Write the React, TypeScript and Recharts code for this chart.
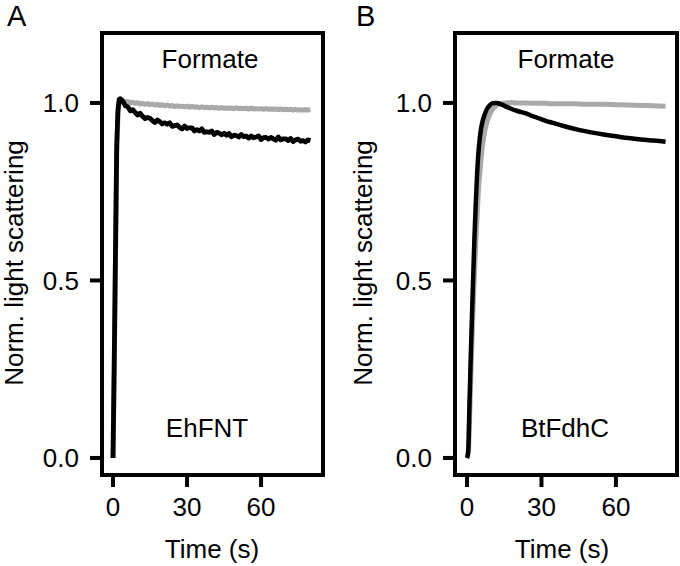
import React from "react";
import { LineChart, Line, XAxis, YAxis, ReferenceArea } from "recharts";

const FONT = "'Liberation Sans', Arial, Helvetica, sans-serif";

// panel A (EhFNT)
const timeA = [
  0, 0.5, 1, 1.5, 2, 2.5, 3, 4, 5, 6, 7, 8, 9, 10, 11, 12, 13, 14, 15, 16, 17, 18, 19, 20,
  21, 22, 23, 24, 25, 26, 27, 28, 29, 30, 31, 32, 33, 34, 35, 36, 37, 38, 39, 40, 41, 42,
  43, 44, 45, 46, 47, 48, 49, 50, 51, 52, 53, 54, 55, 56, 57, 58, 59, 60, 61, 62, 63, 64,
  65, 66, 67, 68, 69, 70, 71, 72, 73, 74, 75, 76, 77, 78, 79, 80,
];
const grayA = [
  0, 0.25, 0.55, 0.85, 0.97, 0.998, 1.003, 1.005, 1.002, 1.004, 1.0, 1.002, 0.999, 1.001,
  0.997, 0.999, 0.996, 0.998, 0.995, 0.997, 0.994, 0.996, 0.993, 0.995, 0.992, 0.994, 0.991,
  0.993, 0.99, 0.992, 0.99, 0.991, 0.989, 0.991, 0.988, 0.99, 0.988, 0.989, 0.987, 0.989,
  0.987, 0.988, 0.986, 0.988, 0.986, 0.987, 0.985, 0.987, 0.985, 0.986, 0.985, 0.986, 0.984,
  0.986, 0.984, 0.985, 0.984, 0.985, 0.983, 0.985, 0.983, 0.984, 0.983, 0.984, 0.982, 0.984,
  0.982, 0.983, 0.982, 0.983, 0.981, 0.983, 0.981, 0.982, 0.981, 0.982, 0.98, 0.982, 0.98,
  0.981, 0.98, 0.981, 0.98, 0.981,
];
const blackA = [
  0, 0.27, 0.58, 0.88, 0.98, 1.01, 1.012, 1.005, 0.992, 0.989, 0.978, 0.981, 0.973, 0.966,
  0.971, 0.962, 0.956, 0.959, 0.957, 0.95, 0.945, 0.952, 0.947, 0.941, 0.944, 0.94, 0.944,
  0.934, 0.936, 0.938, 0.931, 0.927, 0.935, 0.928, 0.93, 0.93, 0.921, 0.925, 0.921, 0.927,
  0.917, 0.919, 0.917, 0.921, 0.911, 0.917, 0.915, 0.91, 0.915, 0.909, 0.914, 0.905, 0.909,
  0.908, 0.904, 0.911, 0.905, 0.907, 0.901, 0.907, 0.902, 0.904, 0.907, 0.897, 0.902, 0.903,
  0.898, 0.903, 0.899, 0.895, 0.904, 0.896, 0.899, 0.899, 0.894, 0.9, 0.891, 0.896, 0.898,
  0.892, 0.894, 0.89, 0.896, 0.894,
];

// panel B (BtFdhC)
const timeB = [
  0, 0.5, 1, 1.5, 2, 2.5, 3, 3.5, 4, 4.5, 5, 5.5, 6, 7, 8, 9, 10, 11, 12, 14, 16, 18, 20,
  22, 24, 26, 28, 30, 32, 34, 36, 38, 40, 45, 50, 55, 60, 65, 70, 75, 80,
];
const grayB = [
  0, 0.01, 0.1, 0.22, 0.33, 0.43, 0.52, 0.6, 0.67, 0.74, 0.79, 0.83, 0.865, 0.915, 0.945,
  0.966, 0.979, 0.988, 0.994, 0.999, 1.0, 1.001, 1.0, 1.0, 1.0, 0.999, 0.999, 0.999, 0.999,
  0.998, 0.998, 0.998, 0.998, 0.997, 0.996, 0.996, 0.995, 0.994, 0.993, 0.992, 0.991,
];
const blackB = [
  0, 0.02, 0.15, 0.28, 0.4, 0.51, 0.62, 0.71, 0.79, 0.85, 0.89, 0.92, 0.94, 0.965, 0.982,
  0.992, 0.998, 1.0, 1.0, 0.995, 0.989, 0.983, 0.978, 0.974, 0.97, 0.964, 0.959, 0.954,
  0.949, 0.945, 0.941, 0.937, 0.933, 0.924, 0.917, 0.911, 0.906, 0.901, 0.897, 0.894, 0.891,
];

const xTicks = [0, 30, 60];
const yTicks = [0, 0.5, 1];

const yDomain: [number, number] = [-0.048, 1.197];

function rows(t: number[], gray: number[], black: number[]) {
  return t.map((v, i) => ({ t: v, gray: gray[i], black: black[i] }));
}

function Panel({
  data,
  left,
  yAxisWidth,
  rightMargin,
  xDomain,
  curve,
  blackWidth,
}: {
  data: { t: number; gray: number; black: number }[];
  left: number;
  yAxisWidth: number;
  rightMargin: number;
  xDomain: [number, number];
  curve: "linear" | "monotone";
  blackWidth: number;
}) {
  const tick = { fill: "#000", fontSize: 26, fontFamily: FONT };
  const tickLine = { stroke: "#000", strokeWidth: 4 };
  return (
    <div style={{ position: "absolute", left, top: 0 }}>
      <LineChart
        width={340}
        height={566}
        data={data}
        margin={{ top: 33, right: rightMargin, left: 0, bottom: 61 }}
      >
        <XAxis
          type="number"
          dataKey="t"
          domain={xDomain}
          ticks={xTicks}
          height={30}
          axisLine={false}
          tickLine={tickLine}
          tickSize={12}
          tickMargin={11}
          tick={tick}
          allowDataOverflow
        />
        <YAxis
          type="number"
          domain={yDomain}
          ticks={yTicks}
          width={yAxisWidth}
          axisLine={false}
          tickLine={tickLine}
          tickSize={12}
          tickMargin={11}
          tick={tick}
          tickFormatter={(v: number) => v.toFixed(1)}
          allowDataOverflow
        />
        <ReferenceArea
          x1={xDomain[0]}
          x2={xDomain[1]}
          y1={yDomain[0]}
          y2={yDomain[1]}
          fill="none"
          stroke="#000"
          strokeWidth={4}
          ifOverflow="visible"
        />
        <Line
          type={curve}
          dataKey="gray"
          stroke="#a9a9a9"
          strokeWidth={5}
          dot={false}
          strokeLinejoin="round"
          isAnimationActive={false}
        />
        <Line
          type={curve}
          dataKey="black"
          stroke="#000"
          strokeWidth={blackWidth}
          dot={false}
          strokeLinejoin="round"
          isAnimationActive={false}
        />
      </LineChart>
    </div>
  );
}

export default function App() {
  const text = { fontFamily: FONT, fill: "#000" };
  return (
    <div style={{ position: "absolute", left: 0, top: 0, width: 680, height: 566, background: "#fff" }}>
      <Panel
        data={rows(timeA, grayA, blackA)}
        left={0}
        yAxisWidth={102}
        rightMargin={17}
        xDomain={[-4.46, 85.1]}
        curve="linear"
        blackWidth={4.8}
      />
      <Panel
        data={rows(timeB, grayB, blackB)}
        left={340}
        yAxisWidth={115}
        rightMargin={3}
        xDomain={[-4.83, 84.6]}
        curve="monotone"
        blackWidth={4.5}
      />
      <svg
        width={680}
        height={566}
        style={{ position: "absolute", left: 0, top: 0, pointerEvents: "none" }}
      >
        <text x={7} y={26} fontSize={29} {...text}>A</text>
        <text x={356} y={26} fontSize={29} {...text}>B</text>
        <text x={210} y={68} fontSize={26} textAnchor="middle" {...text}>Formate</text>
        <text x={566} y={68} fontSize={26} textAnchor="middle" {...text}>Formate</text>
        <text x={207} y={437} fontSize={26} textAnchor="middle" {...text}>EhFNT</text>
        <text x={565} y={437} fontSize={26} textAnchor="middle" {...text}>BtFdhC</text>
        <text x={212} y={558} fontSize={26} textAnchor="middle" {...text}>Time (s)</text>
        <text x={562} y={558} fontSize={26} textAnchor="middle" {...text}>Time (s)</text>
        <text
          x={0}
          y={0}
          fontSize={26}
          textAnchor="middle"
          transform="translate(22.5 263) rotate(-90)"
          {...text}
        >
          Norm. light scattering
        </text>
        <text
          x={0}
          y={0}
          fontSize={26}
          textAnchor="middle"
          transform="translate(372 263) rotate(-90)"
          {...text}
        >
          Norm. light scattering
        </text>
      </svg>
    </div>
  );
}
